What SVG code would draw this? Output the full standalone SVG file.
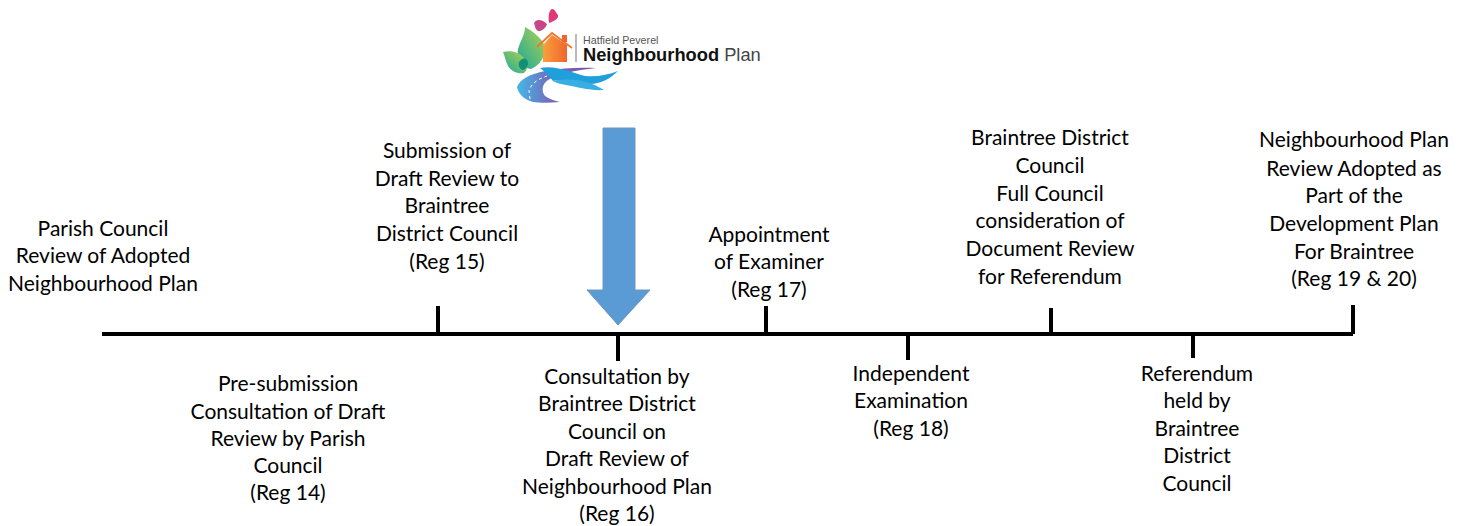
<svg xmlns="http://www.w3.org/2000/svg" width="1464" height="526" viewBox="0 0 1464 526">
<defs>
<linearGradient id="leaf" x1="0" y1="1" x2="1" y2="0"><stop offset="0" stop-color="#17a99b"/><stop offset="1" stop-color="#b5d24e"/></linearGradient>
<linearGradient id="house" x1="0" y1="0" x2="1" y2="0"><stop offset="0" stop-color="#f7a13a"/><stop offset="1" stop-color="#f0652f"/></linearGradient>
<linearGradient id="road" x1="0" y1="0" x2="1" y2="0"><stop offset="0" stop-color="#45b8e6"/><stop offset="0.4" stop-color="#6f6fc0"/><stop offset="1" stop-color="#7f4ba3"/></linearGradient>
<linearGradient id="wing" x1="0" y1="1" x2="1" y2="0"><stop offset="0" stop-color="#b9508a"/><stop offset="1" stop-color="#ee2f74"/></linearGradient>
</defs>
<style>
.l{font-family:Lato,"Liberation Sans",sans-serif;font-size:21px;fill:#000;text-anchor:middle}
.t{stroke:#000;stroke-width:4;fill:none}
</style>
<g id="connectors">
<path class="t" d="M102 334H1353M438 306V334M618 334V361M766 306V334M908 334V360M1051 308V334M1193 334V358M1353 305V334"/>
</g>
<g id="logo">
<path d="M525 27C536 33 548 44 545 52C543 60 538 66 531 69L526 68C518 62 516 52 519 46C521 40 525 34 525 27Z" fill="url(#leaf)"/>
<path d="M503 52C511 50 521 52 525 60C529 66 527 71 524 73C518 74 512 72 508 66C506 62 505 57 503 52Z" fill="url(#leaf)"/>
<path d="M519 62C523 56 528 58 528 64C527 68 524 70 522 70C519 68 518 65 519 62Z" fill="#138f77"/>
<path d="M543 62V45L552 35L567 45V62Z" fill="url(#house)"/>
<path d="M537 47L552 33L572 48" fill="none" stroke="#f0762f" stroke-width="1.8"/>
<rect x="562" y="35" width="5" height="7" fill="#f0652f"/>
<path d="M534 23C536 19 542 19 547 24C546 28 541 32 538 31C535 29 535 26 534 23ZM549 23C548 16 549 10 552 9C555 9 556 13 558 15C559 18 555 21 549 23Z" fill="url(#wing)"/>
<rect x="575.5" y="34" width="1" height="28" fill="#777"/>
<path d="M517 87C520 79 530 74 545 71C562 68 580 67 596 68C575 70 556 75 548 80C542 84 541 91 545 96C549 99 555 101 560 102C550 103 540 103 533 102C525 100 518 94 517 87Z" fill="url(#road)"/>
<path d="M530 99L529 90C532 83 538 79 547 76" fill="none" stroke="#fff" stroke-width="1" stroke-dasharray="3 3"/>
<path d="M540 68C556 65 570 72 585 76C597 77 608 75 618 71C610 79 600 84 590 84C578 84 564 79 553 81C549 76 544 71 540 68Z" fill="#1f9fdc"/>
<path d="M553 81C572 77 590 81 604 90C590 91 578 87 566 85C561 84 556 83 553 81Z" fill="#3aaee3"/>
<text x="583" y="44" font-family="'Liberation Sans',sans-serif" font-size="10.7px" fill="#555">Hatfield Peverel</text>
<text x="583" y="61" font-family="'Liberation Sans',sans-serif" font-size="18.3px" font-weight="700" fill="#111">Neighbourhood <tspan font-weight="400" fill="#444">Plan</tspan></text>
</g>
<g id="arrow">
<path d="M603 128H635V290H650L618 325L587 290H603Z" fill="#5b9bd5" stroke="#6f96bd" stroke-width="1"/>
</g>
<g id="n1"><text class="l" x="103" y="236">Parish Council</text><text class="l" x="103" y="263">Review of Adopted</text><text class="l" x="103" y="291">Neighbourhood Plan</text></g>
<g id="n2"><text class="l" x="288" y="391">Pre-submission</text><text class="l" x="288" y="419">Consultation of Draft</text><text class="l" x="288" y="446">Review by Parish</text><text class="l" x="288" y="473">Council</text><text class="l" x="288" y="500">(Reg 14)</text></g>
<g id="n3"><text class="l" x="447" y="158">Submission of</text><text class="l" x="447" y="186">Draft Review to</text><text class="l" x="447" y="213">Braintree</text><text class="l" x="447" y="241">District Council</text><text class="l" x="447" y="269">(Reg 15)</text></g>
<g id="n4"><text class="l" x="617" y="384">Consultation by</text><text class="l" x="617" y="411">Braintree District</text><text class="l" x="617" y="439">Council on</text><text class="l" x="617" y="466">Draft Review of</text><text class="l" x="617" y="494">Neighbourhood Plan</text><text class="l" x="617" y="521">(Reg 16)</text></g>
<g id="n5"><text class="l" x="769" y="242">Appointment</text><text class="l" x="769" y="269">of Examiner</text><text class="l" x="769" y="297">(Reg 17)</text></g>
<g id="n6"><text class="l" x="911" y="381">Independent</text><text class="l" x="911" y="408">Examination</text><text class="l" x="911" y="436">(Reg 18)</text></g>
<g id="n7"><text class="l" x="1050" y="145">Braintree District</text><text class="l" x="1050" y="173">Council</text><text class="l" x="1050" y="201">Full Council</text><text class="l" x="1050" y="228">consideration of</text><text class="l" x="1050" y="256">Document Review</text><text class="l" x="1050" y="284">for Referendum</text></g>
<g id="n8"><text class="l" x="1197" y="381">Referendum</text><text class="l" x="1197" y="408">held by</text><text class="l" x="1197" y="436">Braintree</text><text class="l" x="1197" y="463">District</text><text class="l" x="1197" y="491">Council</text></g>
<g id="n9"><text class="l" x="1354" y="147">Neighbourhood Plan</text><text class="l" x="1354" y="176">Review Adopted as</text><text class="l" x="1354" y="203">Part of the</text><text class="l" x="1354" y="231">Development Plan</text><text class="l" x="1354" y="259">For Braintree</text><text class="l" x="1354" y="286">(Reg 19 &amp; 20)</text></g>
</svg>
